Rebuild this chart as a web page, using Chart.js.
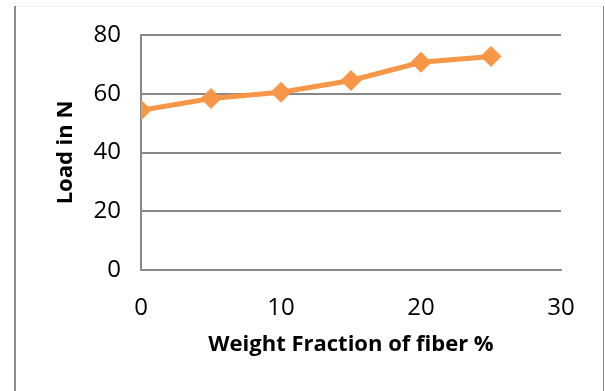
<!DOCTYPE html>
<html>
<head>
<meta charset="utf-8">
<script src="https://cdn.jsdelivr.net/npm/chart.js@4/dist/chart.umd.min.js"></script>
<style>
  html, body { margin: 0; padding: 0; background: #fff; }
  #wrap { width: 605px; height: 391px; position: relative; }
</style>
</head>
<body>
<div id="wrap"><canvas id="loadChart"></canvas></div>
<script>
// Данные графика
const fiberPercent = [0, 5, 10, 15, 20, 25];
const loadValues = [54.4, 58.4, 60.5, 64.5, 70.7, 72.7];
const xTicks = [0, 10, 20, 30];
const yTicks = [0, 20, 40, 60, 80];

const lineColor = '#F79646';
const gridColor = '#888888';

// Рамка вокруг картинки (как в исходнике)
const frame = {
  id: 'frame',
  beforeDraw(chart) {
    const {ctx} = chart;
    ctx.save();
    ctx.fillStyle = '#f2f2f2';
    ctx.fillRect(16, 6, 587, 1);
    ctx.fillStyle = '#8a8a8a';
    ctx.fillRect(14, 6, 2, 385);
    ctx.fillRect(603, 6, 1, 385);
    ctx.restore();
  }
};

const ctx = document.getElementById('loadChart').getContext('2d');
new Chart(ctx, {
  type: 'line',
  data: {
    datasets: [{
      data: fiberPercent.map((x, i) => ({x: x, y: loadValues[i]})),
      borderColor: lineColor,
      backgroundColor: lineColor,
      borderWidth: 5,
      pointStyle: 'rectRot',
      pointRadius: 10,
      pointBorderWidth: 1,
      pointBackgroundColor: lineColor,
      pointBorderColor: lineColor,
      tension: 0
    }]
  },
  options: {
    responsive: true,
    maintainAspectRatio: false,
    animation: false,
    layout: { padding: { left: 0, top: 35, right: 44, bottom: 0 } },
    plugins: {
      legend: { display: false },
      tooltip: { enabled: false }
    },
    scales: {
      x: {
        type: 'linear',
        min: 0,
        max: 30,
        afterBuildTicks: (s) => { s.ticks = xTicks.map(v => ({value: v})); },
        grid: { display: false, drawTicks: false },
        border: { display: true, color: gridColor, width: 2 },
        ticks: {
          color: '#000',
          font: { family: 'Open Sans', size: 24 },
          padding: 24
        },
        title: {
          display: true,
          text: 'Weight Fraction of fiber %',
          color: '#000',
          font: { family: 'Open Sans', size: 22, weight: 'bold' },
          padding: { top: 0, bottom: 33 }
        },
        afterFit: (s) => { s.height = 121; }
      },
      y: {
        min: 0,
        max: 80,
        afterBuildTicks: (s) => { s.ticks = yTicks.map(v => ({value: v})); },
        grid: { color: gridColor, lineWidth: 2, drawTicks: false },
        border: { display: true, color: gridColor, width: 2 },
        ticks: {
          color: '#000',
          font: { family: 'Open Sans', size: 24 },
          padding: 20
        },
        title: {
          display: true,
          text: 'Load in N',
          color: '#000',
          font: { family: 'Open Sans', size: 22, weight: 'bold' },
          padding: { top: 53, bottom: 0 }
        },
        afterFit: (s) => { s.width = 141; }
      }
    }
  },
  plugins: [frame]
});
</script>
</body>
</html>
